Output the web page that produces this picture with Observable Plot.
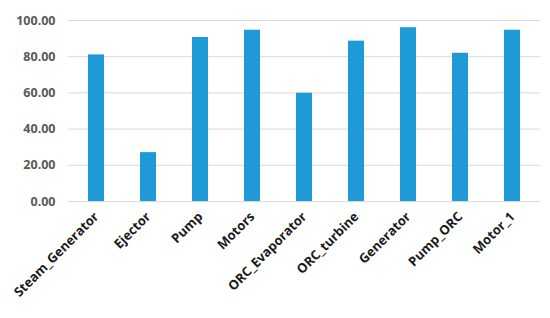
<!DOCTYPE html>
<html>
<head>
<meta charset="utf-8">
<script src="https://cdn.jsdelivr.net/npm/d3@7"></script>
<script src="https://cdn.jsdelivr.net/npm/@observablehq/plot@0.6"></script>
<style>
  html, body { margin: 0; padding: 0; background: #fff; }
  #chart { width: 550px; height: 318px; }
</style>
</head>
<body>
<div id="chart"></div>
<script>
const categories = ["Steam_Generator", "Ejector", "Pump", "Motors", "ORC_Evaporator", "ORC_turbine", "Generator", "Pump_ORC", "Motor_1"];
const values = [81.0, 27.0, 90.6, 94.6, 59.8, 88.6, 96.0, 81.9, 94.6];
const yTicks = [0, 20, 40, 60, 80, 100];

const data = categories.map((c, i) => ({category: c, value: values[i]}));

const chart = Plot.plot({
  width: 550,
  height: 318,
  marginTop: 20,
  marginBottom: 117,
  marginLeft: 68,
  marginRight: 10,
  style: {fontFamily: "'Open Sans', sans-serif", background: "#fff"},
  x: {domain: categories, paddingInner: 0.69, paddingOuter: 0.345, label: null},
  y: {domain: [0, 100], ticks: yTicks, label: null},
  marks: [
    Plot.gridY(yTicks, {stroke: "#d9d9d9", strokeOpacity: 1, strokeWidth: 1}),
    Plot.barY(data, {x: "category", y: "value", fill: "#1e9bd7"}),
    Plot.axisY({
      ticks: yTicks,
      tickFormat: d3.format(".2f"),
      tickSize: 0,
      tickPadding: 13,
      fill: "#595959",
      fontSize: 12.5,
      fontWeight: "bold",
      label: null
    }),
    Plot.axisX({
      tickSize: 0,
      tickRotate: -45,
      tickPadding: 13,
      fill: "#1a1a1a",
      fontSize: 13,
      fontWeight: "bold",
      label: null
    })
  ]
});
document.getElementById("chart").appendChild(chart);
</script>
</body>
</html>
